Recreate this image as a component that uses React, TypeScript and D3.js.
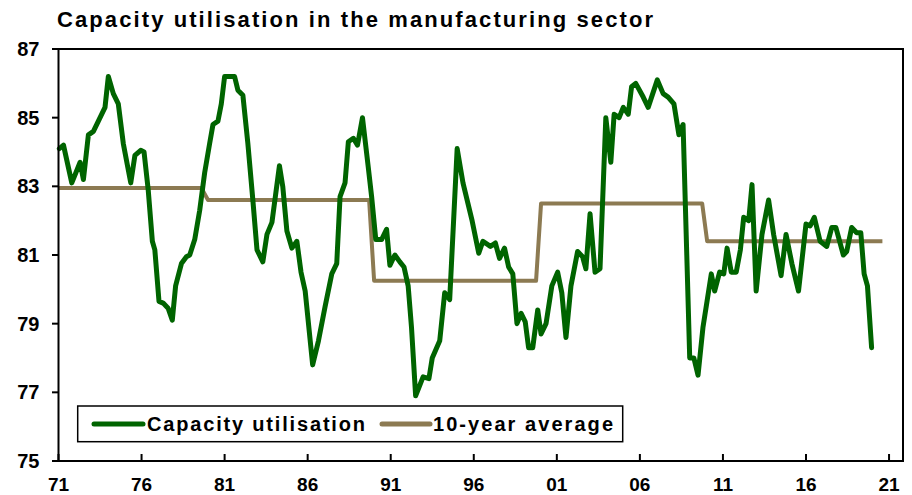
import React, { useEffect, useRef } from "react";
import * as d3 from "d3";

// Capacity utilisation (decimal year, per cent)
const capYears = [
  1971.05, 1971.3, 1971.8, 1972.3, 1972.5, 1972.8, 1973.1, 1973.4, 1973.8, 1974.0,
  1974.3, 1974.6, 1974.9, 1975.35, 1975.6, 1975.95, 1976.15, 1976.4, 1976.65, 1976.8,
  1977.05, 1977.3, 1977.6, 1977.85, 1978.05, 1978.4, 1978.7, 1978.9, 1979.2, 1979.5,
  1979.8, 1980.1, 1980.3, 1980.6, 1980.8, 1981.0, 1981.3, 1981.6, 1981.8, 1982.1,
  1982.4, 1982.7, 1982.95, 1983.3, 1983.55, 1983.85, 1984.3, 1984.5, 1984.75, 1985.05,
  1985.35, 1985.6, 1985.85, 1986.3, 1986.65, 1987.05, 1987.45, 1987.75, 1987.95, 1988.25,
  1988.45, 1988.75, 1989.0, 1989.3, 1989.65, 1989.85, 1990.1, 1990.45, 1990.75, 1990.95,
  1991.25, 1991.55, 1991.8, 1992.05, 1992.25, 1992.5, 1992.95, 1993.3, 1993.5, 1993.95,
  1994.25, 1994.55, 1995.0, 1995.35, 1995.9, 1996.3, 1996.55, 1997.0, 1997.3, 1997.55,
  1997.85, 1998.1, 1998.35, 1998.6, 1998.85, 1999.1, 1999.3, 1999.55, 1999.85, 2000.05,
  2000.35, 2000.7, 2001.05, 2001.3, 2001.55, 2001.85, 2002.25, 2002.55, 2002.75, 2003.0,
  2003.3, 2003.6, 2003.95, 2004.25, 2004.45, 2004.75, 2005.0, 2005.3, 2005.5, 2005.75,
  2006.2, 2006.5, 2007.05, 2007.4, 2007.7, 2008.05, 2008.35, 2008.6, 2009.0, 2009.25,
  2009.5, 2009.8, 2010.3, 2010.5, 2010.8, 2011.05, 2011.25, 2011.5, 2011.8, 2012.05,
  2012.25, 2012.55, 2012.75, 2013.0, 2013.35, 2013.75, 2014.05, 2014.5, 2014.8, 2015.15,
  2015.55, 2016.0, 2016.25, 2016.5, 2016.85, 2017.25, 2017.55, 2017.8, 2018.25, 2018.45,
  2018.75, 2019.05, 2019.3, 2019.5, 2019.7, 2019.95,
];
const capValues = [
  84.1, 84.2, 83.1, 83.7, 83.2, 84.5, 84.6, 84.9, 85.3, 86.2,
  85.7, 85.4, 84.25, 83.1, 83.9, 84.05, 84.0, 82.9, 81.4, 81.15,
  79.65, 79.6, 79.45, 79.1, 80.1, 80.75, 80.95, 81.0, 81.45, 82.3,
  83.4, 84.25, 84.8, 84.9, 85.4, 86.2, 86.2, 86.2, 85.8, 85.65,
  84.25, 82.6, 81.15, 80.8, 81.6, 81.95, 83.6, 83.0, 81.7, 81.2,
  81.4, 80.5, 79.95, 77.8, 78.5, 79.5, 80.45, 80.75, 82.7, 83.1,
  84.3, 84.4, 84.2, 85.0, 83.55, 82.7, 81.45, 81.45, 81.75, 80.7,
  81.0, 80.8, 80.65, 80.1, 78.9, 76.9, 77.45, 77.4, 78.0, 78.5,
  79.9, 79.7, 84.1, 83.1, 82.0, 81.05, 81.4, 81.25, 81.35, 80.9,
  81.2, 80.65, 80.45, 79.0, 79.3, 79.05, 78.3, 78.3, 79.4, 78.7,
  79.0, 80.1, 80.5, 79.9, 78.6, 80.1, 81.1, 80.95, 80.6, 82.2,
  80.5, 80.6, 85.0, 83.7, 85.1, 85.0, 85.3, 85.1, 85.9, 86.0,
  85.6, 85.3, 86.1, 85.7, 85.6, 85.4, 84.5, 84.8, 78.0, 78.0,
  77.5, 78.9, 80.45, 79.95, 80.5, 80.45, 81.2, 80.5, 80.5, 81.15,
  82.1, 82.0, 83.05, 79.95, 81.6, 82.6, 81.6, 80.4, 81.6, 80.75,
  79.95, 81.9, 81.85, 82.1, 81.4, 81.25, 81.8, 81.8, 81.0, 81.1,
  81.8, 81.65, 81.65, 80.45, 80.1, 78.3,
];

// 10-year average (steps at each decade)
const avgYears = [1971.0, 1979.6, 1980.0, 1989.7, 1990.0, 1999.75, 2000.05, 2009.75, 2010.05, 2020.6];
const avgValues = [82.95, 82.95, 82.6, 82.6, 80.25, 80.25, 82.5, 82.5, 81.4, 81.4];

const yTicks = [75, 77, 79, 81, 83, 85, 87];
const xTicks = [1971, 1976, 1981, 1986, 1991, 1996, 2001, 2006, 2011, 2016, 2021];

const seriesNames = ["Capacity utilisation", "10-year average"];
const GREEN = "#006400";
const BROWN = "#8c7a52";
const FONT = "'Liberation Sans', Arial, sans-serif";

const CapacityChart = () => {
    const svgRef = useRef(null);

    useEffect(() => {
        const width = 912, height = 495;
        const margin = { top: 49, right: 9, bottom: 34, left: 58.5 };

        const svg = d3.select(svgRef.current);
        svg.selectAll("*").remove();
        svg.attr("width", width).attr("height", height);

        const x = d3.scaleLinear()
            .domain([1971, 2021.84])
            .range([margin.left, width - margin.right]);
        const y = d3.scaleLinear()
            .domain([75, 87])
            .range([height - margin.bottom, margin.top]);

        // title
        svg.append("text")
            .attr("x", 57)
            .attr("y", 27)
            .attr("font-family", FONT)
            .attr("font-weight", "bold")
            .attr("font-size", 22)
            .attr("textLength", 596)
            .attr("lengthAdjust", "spacing")
            .text("Capacity utilisation in the manufacturing sector");

        // lines
        const capData = capYears.map((yr, i) => [yr, capValues[i]]);
        const avgData = avgYears.map((yr, i) => [yr, avgValues[i]]);
        const line = d3.line().x(d => x(d[0])).y(d => y(d[1]));

        svg.append("path")
            .datum(avgData)
            .attr("d", line)
            .attr("fill", "none")
            .attr("stroke", BROWN)
            .attr("stroke-width", 4)
            .attr("stroke-linejoin", "round");

        svg.append("path")
            .datum(capData)
            .attr("d", line)
            .attr("fill", "none")
            .attr("stroke", GREEN)
            .attr("stroke-width", 5)
            .attr("stroke-linejoin", "round")
            .attr("stroke-linecap", "round");

        // frame
        svg.append("rect")
            .attr("x", x.range()[0])
            .attr("y", y.range()[1])
            .attr("width", x.range()[1] - x.range()[0])
            .attr("height", y.range()[0] - y.range()[1])
            .attr("fill", "none")
            .attr("stroke", "#000")
            .attr("stroke-width", 2);

        // y axis
        const yAxis = svg.append("g");
        yAxis.selectAll("line")
            .data(yTicks)
            .enter()
            .append("line")
            .attr("x1", margin.left - 6.5)
            .attr("x2", margin.left)
            .attr("y1", d => y(d))
            .attr("y2", d => y(d))
            .attr("stroke", "#000")
            .attr("stroke-width", 2);
        yAxis.selectAll("text")
            .data(yTicks)
            .enter()
            .append("text")
            .attr("x", 39.5)
            .attr("y", d => y(d))
            .attr("dy", "0.35em")
            .attr("text-anchor", "end")
            .attr("font-family", FONT)
            .attr("font-weight", "bold")
            .attr("font-size", 20)
            .text(d => d);

        // x axis
        const xAxis = svg.append("g");
        xAxis.selectAll("line")
            .data(xTicks)
            .enter()
            .append("line")
            .attr("x1", d => x(d))
            .attr("x2", d => x(d))
            .attr("y1", y(75))
            .attr("y2", y(75) - 7)
            .attr("stroke", "#000")
            .attr("stroke-width", 2);
        xAxis.selectAll("text")
            .data(xTicks)
            .enter()
            .append("text")
            .attr("x", d => x(d))
            .attr("y", 491)
            .attr("text-anchor", "middle")
            .attr("font-family", FONT)
            .attr("font-weight", "bold")
            .attr("font-size", 19)
            .text(d => String(d % 100).padStart(2, "0"));

        // legend
        const legend = svg.append("g");
        legend.append("rect")
            .attr("x", 77.7)
            .attr("y", 406)
            .attr("width", 545)
            .attr("height", 35.7)
            .attr("fill", "#fff")
            .attr("stroke", "#000")
            .attr("stroke-width", 1.5);

        const items = [
            { name: seriesNames[0], color: GREEN, x0: 94, x1: 143, tx: 147, tw: 218 },
            { name: seriesNames[1], color: BROWN, x0: 382, x1: 430, tx: 433, tw: 180 },
        ];
        items.forEach(it => {
            legend.append("line")
                .attr("x1", it.x0)
                .attr("x2", it.x1)
                .attr("y1", 424)
                .attr("y2", 424)
                .attr("stroke", it.color)
                .attr("stroke-width", 5)
                .attr("stroke-linecap", "round");
            legend.append("text")
                .attr("x", it.tx)
                .attr("y", 431)
                .attr("font-family", FONT)
                .attr("font-weight", "bold")
                .attr("font-size", 20)
                .attr("textLength", it.tw)
                .attr("lengthAdjust", "spacing")
                .text(it.name);
        });
    }, []);

    return (
        <svg
            ref={svgRef}
            style={{ position: "absolute", left: 0, top: 0, background: "#fff" }}
        />
    );
};

export default function App() {
    return <CapacityChart />;
}
